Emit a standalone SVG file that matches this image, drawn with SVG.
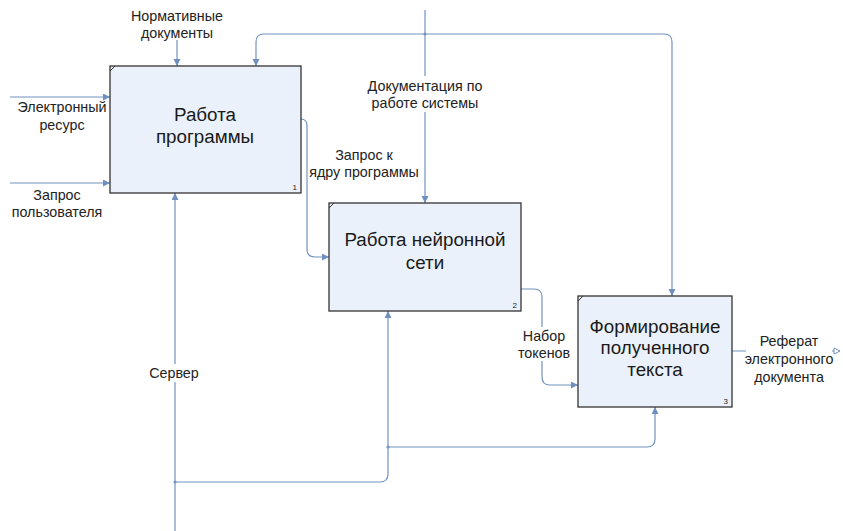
<svg xmlns="http://www.w3.org/2000/svg" width="843" height="531" viewBox="0 0 843 531">
<style>
.box{fill:#eaf1fa;stroke:#333;stroke-width:1.3}
.corner{stroke:#333;stroke-width:1}
.ln{fill:none;stroke:#7393c0;stroke-width:1.2}
.t{font-family:"Liberation Sans",Arial,sans-serif;font-size:18.8px;fill:#1a1a1a;text-anchor:middle}
.lb{font-family:"Liberation Sans",Arial,sans-serif;font-size:14.3px;fill:#222;text-anchor:middle}
.num{font-family:"Liberation Sans",Arial,sans-serif;font-size:8px;fill:#222;text-anchor:end}
.bg{fill:#fff}
.dot{fill:#7393c0}
</style>
<defs>
<marker id="ah" markerWidth="8" markerHeight="8" refX="7" refY="3.5" orient="auto" markerUnits="userSpaceOnUse">
<path d="M0,0 L7,3.5 L0,7 Z" fill="#6f8fc0"/>
</marker>
<marker id="oh" markerWidth="9" markerHeight="9" refX="7" refY="4" orient="auto" markerUnits="userSpaceOnUse">
<path d="M1,1 L7,4 L1,7 Z" fill="#fff" stroke="#7393c0" stroke-width="1"/>
</marker>
</defs>
<rect width="843" height="531" fill="#fff"/>

<g id="connectors">
<path class="ln" d="M10,97 H110" marker-end="url(#ah)"/>
<path class="ln" d="M10,183 H110" marker-end="url(#ah)"/>
<path class="ln" d="M177,40 V66" marker-end="url(#ah)"/>
<path class="ln" d="M425,10 V203" marker-end="url(#ah)"/>
<path class="ln" d="M425,34 H264 Q256,34 256,42 V66" marker-end="url(#ah)"/>
<path class="ln" d="M425,34 H664 Q672,34 672,42 V296" marker-end="url(#ah)"/>
<circle class="dot" cx="425" cy="34" r="1.6"/>
<path class="ln" d="M301,119 Q307,119 307,126 V249 Q307,257 315,257 H329" marker-end="url(#ah)"/>
<path class="ln" d="M521,289 H534 Q542,289 542,297 V377 Q542,385 550,385 H578" marker-end="url(#ah)"/>
<path class="ln" d="M732,351 H840" marker-end="url(#oh)"/>
<path class="ln" d="M175,531 V193" marker-end="url(#ah)"/>
<path class="ln" d="M175,482 H380 Q388,482 388,474 V311" marker-end="url(#ah)"/>
<path class="ln" d="M388,447 H647 Q655,447 655,439 V407" marker-end="url(#ah)"/>
<circle class="dot" cx="175" cy="482" r="1.6"/>
<circle class="dot" cx="388" cy="447" r="1.6"/>
</g>

<g id="labels">
<text class="lb" x="177" y="21">Нормативные</text>
<text class="lb" x="177" y="38">документы</text>
<rect class="bg" x="360" y="76" width="130" height="36"/>
<text class="lb" x="425" y="91">Документация по</text>
<text class="lb" x="425" y="108">работе системы</text>
<rect class="bg" x="308" y="146" width="114" height="34"/>
<text class="lb" x="364" y="160">Запрос к</text>
<text class="lb" x="364" y="177">ядру программы</text>
<rect class="bg" x="516" y="327" width="56" height="34"/>
<text class="lb" x="544" y="341">Набор</text>
<text class="lb" x="544" y="358">токенов</text>
<rect class="bg" x="746" y="334" width="86" height="52"/>
<text class="lb" x="789" y="346">Реферат</text>
<text class="lb" x="789" y="364">электронного</text>
<text class="lb" x="789" y="382">документа</text>
<text class="lb" x="62" y="112">Электронный</text>
<text class="lb" x="62" y="130">ресурс</text>
<text class="lb" x="57" y="200">Запрос</text>
<text class="lb" x="57" y="217">пользователя</text>
<rect class="bg" x="146" y="364" width="56" height="18"/>
<text class="lb" x="174" y="378">Сервер</text>
</g>

<g id="node1">
<rect class="box" x="110" y="66" width="191" height="127"/>
<line class="corner" x1="110" y1="71" x2="115" y2="66"/>
<text class="t" x="205" y="121">Работа</text>
<text class="t" x="205" y="143">программы</text>
<text class="num" x="297" y="190">1</text>
</g>

<g id="node2">
<rect class="box" x="329" y="203" width="192" height="108"/>
<line class="corner" x1="329" y1="208" x2="334" y2="203"/>
<text class="t" x="425" y="246">Работа нейронной</text>
<text class="t" x="425" y="269">сети</text>
<text class="num" x="517" y="308">2</text>
</g>

<g id="node3">
<rect class="box" x="578" y="296" width="154" height="111"/>
<line class="corner" x1="578" y1="301" x2="583" y2="296"/>
<text class="t" x="655" y="333">Формирование</text>
<text class="t" x="655" y="354">полученного</text>
<text class="t" x="655" y="376">текста</text>
<text class="num" x="728" y="404">3</text>
</g>
</svg>
